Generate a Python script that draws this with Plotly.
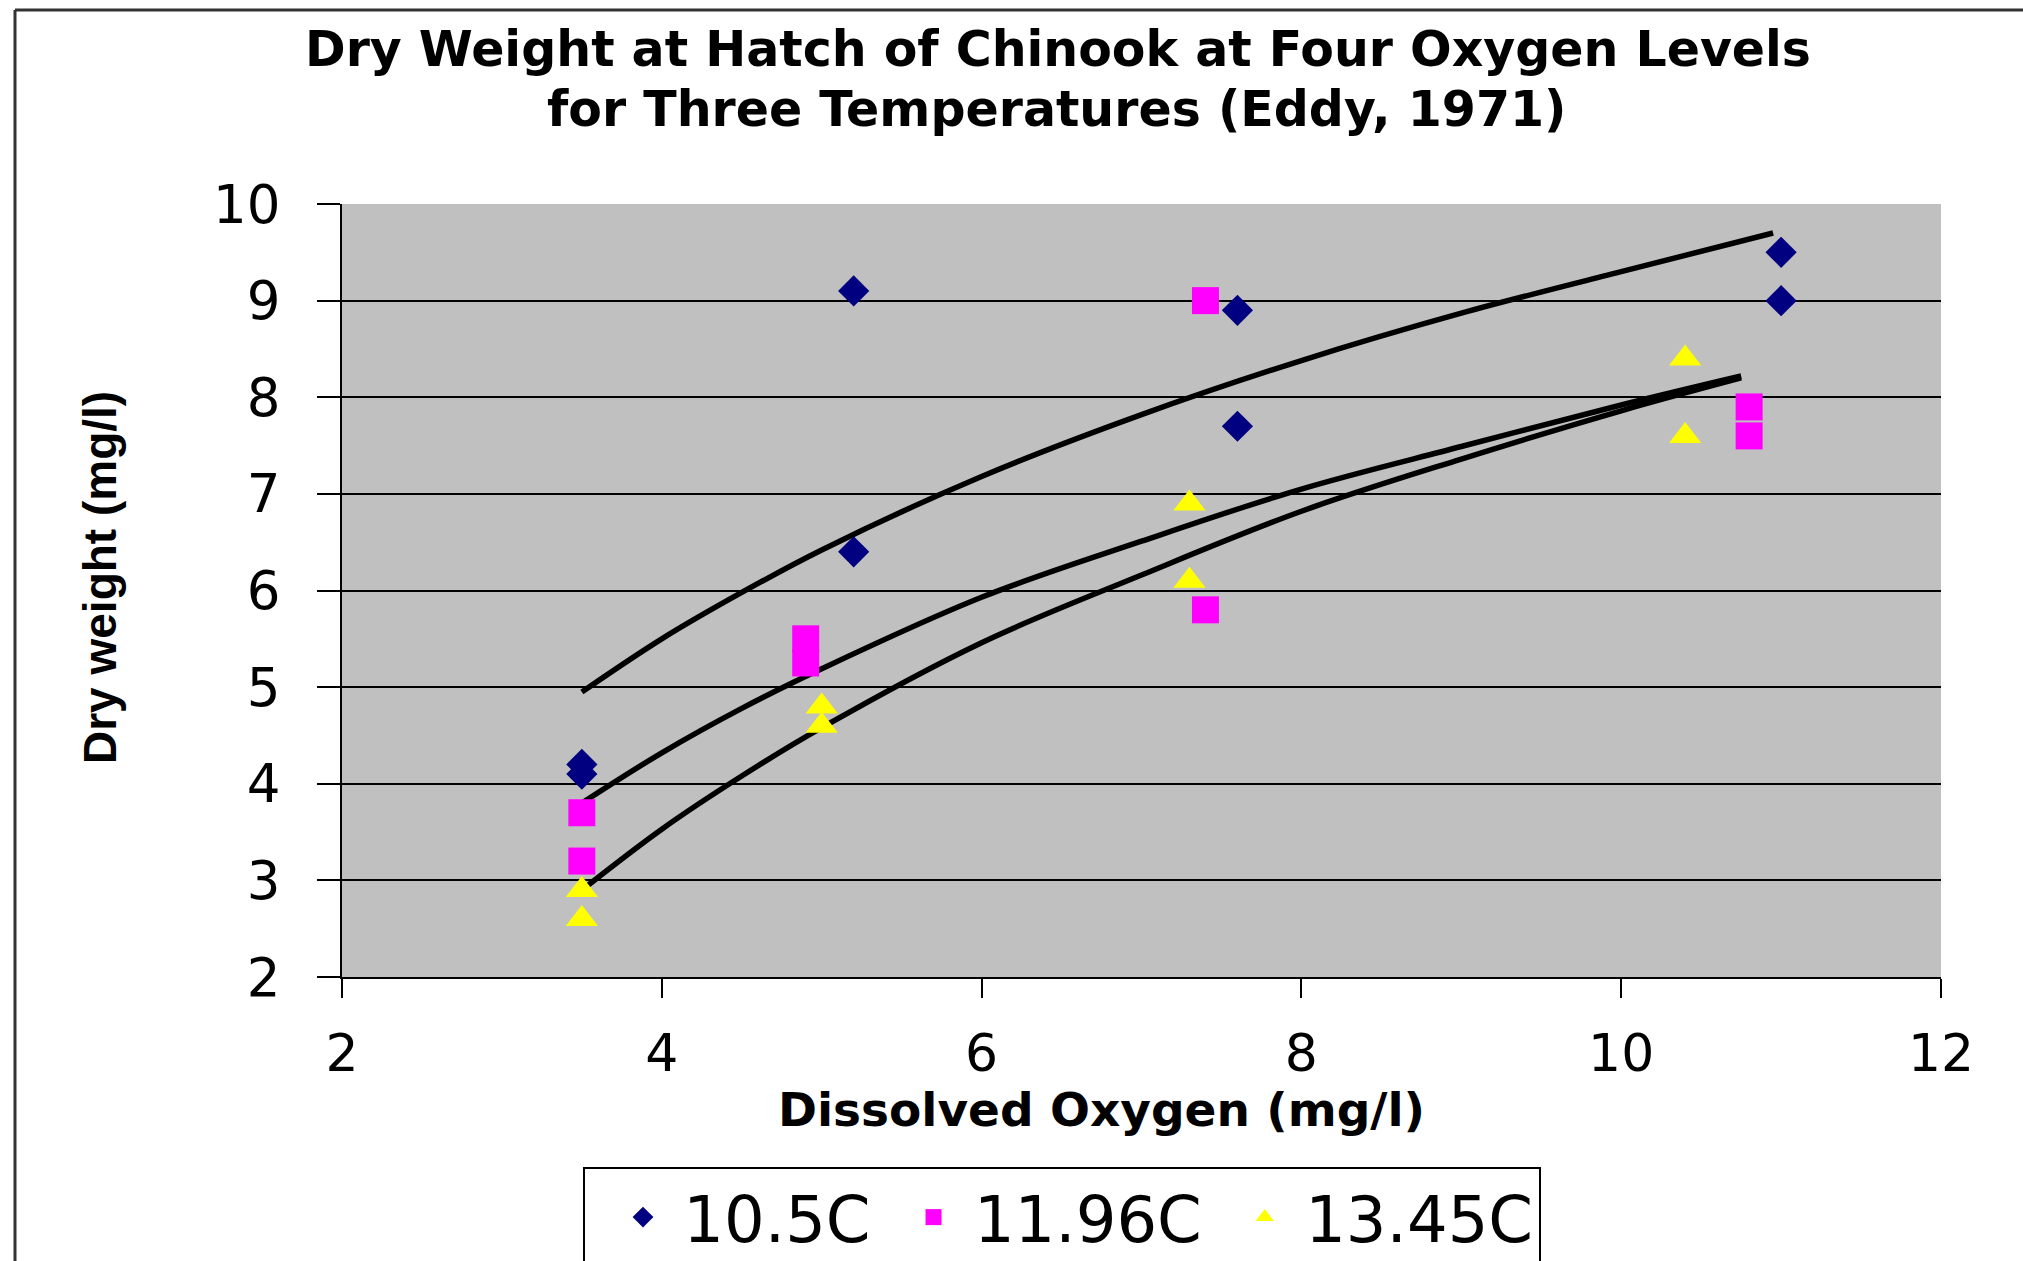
import plotly.graph_objects as go

# ---- data ----
t105_x = [3.5, 3.5, 5.2, 5.2, 7.6, 7.6, 11.0, 11.0]
t105_y = [4.2, 4.1, 9.1, 6.4, 8.9, 7.7, 9.5, 9.0]

t1196_x = [3.5, 3.5, 4.9, 4.9, 7.4, 7.4, 10.8, 10.8]
t1196_y = [3.7, 3.2, 5.5, 5.25, 9.0, 5.8, 7.9, 7.6]

t1345_x = [3.5, 3.5, 5.0, 5.0, 7.3, 7.3, 10.4, 10.4]
t1345_y = [2.9, 2.6, 4.8, 4.6, 6.9, 6.1, 8.4, 7.6]

# trend curves
curve_top_x = [3.5, 4.0, 4.5, 5.0, 6.0, 7.0, 8.0, 9.0, 10.0, 10.95]
curve_top_y = [4.95, 5.5, 5.98, 6.42, 7.18, 7.82, 8.38, 8.87, 9.3, 9.7]

curve_mid_x = [3.5, 4.0, 4.5, 5.0, 6.0, 7.0, 8.0, 9.0, 10.0, 10.75]
curve_mid_y = [3.8, 4.32, 4.78, 5.19, 5.93, 6.51, 7.05, 7.49, 7.92, 8.22]

curve_low_x = [3.5, 4.0, 4.5, 5.0, 6.0, 7.0, 8.0, 9.0, 10.0, 10.75]
curve_low_y = [2.9, 3.53, 4.08, 4.58, 5.46, 6.16, 6.82, 7.36, 7.86, 8.2]

series_names = ["10.5C", "11.96C", "13.45C"]
x_ticks = [2, 4, 6, 8, 10, 12]
y_ticks = [2, 3, 4, 5, 6, 7, 8, 9, 10]

title_line1 = "Dry Weight at Hatch of Chinook at Four Oxygen Levels"
title_line2 = "for Three Temperatures (Eddy, 1971)"
x_title = "Dissolved Oxygen (mg/l)"
y_title = "Dry weight (mg/l)"

FONT = "DejaVu Sans"
NBSP = "\u00a0"

fig = go.Figure()

for cx, cy in [(curve_top_x, curve_top_y), (curve_mid_x, curve_mid_y), (curve_low_x, curve_low_y)]:
    fig.add_trace(go.Scatter(x=cx, y=cy, mode="lines", line=dict(color="black", width=5.5, shape="spline"),
                             showlegend=False, hoverinfo="skip"))

fig.add_trace(go.Scatter(x=t105_x, y=t105_y, mode="markers", name=NBSP + series_names[0],
                         marker=dict(symbol="diamond", size=24, color="#000080")))
fig.add_trace(go.Scatter(x=t1196_x, y=t1196_y, mode="markers", name=NBSP + series_names[1],
                         marker=dict(symbol="square", size=27, color="#FF00FF")))
fig.add_trace(go.Scatter(x=t1345_x, y=t1345_y, mode="markers", name=NBSP + series_names[2],
                         marker=dict(symbol="triangle-up", size=28, color="#FFFF00")))

W, H = 2023, 1261
L, R, T, B = 342, 82, 204, 284
pw, ph = W - L - R, H - T - B

def px_x(p):
    return (p - L) / pw

def px_y(p):
    return (H - B - p) / ph

fig.update_layout(
    width=W, height=H,
    margin=dict(l=L, r=R, t=T, b=B, autoexpand=False),
    paper_bgcolor="white",
    plot_bgcolor="#C0C0C0",
    font=dict(family=FONT, color="black"),
    showlegend=True,
    legend=dict(
        orientation="h",
        x=px_x(583), y=px_y(1167), xanchor="left", yanchor="top",
        bordercolor="black", borderwidth=2, bgcolor="white",
        font=dict(family=FONT, size=64, color="black"),
        indentation=38,
        itemsizing="trace",
    ),
    xaxis=dict(
        range=[2, 12], tickvals=x_ticks, showgrid=False, zeroline=False,
        showline=True, linecolor="black", linewidth=2,
        ticks="outside", ticklen=19, tickwidth=2, tickcolor="black",
        tickfont=dict(family=FONT, size=52, color="black"),
        ticklabelstandoff=11,
    ),
    yaxis=dict(
        range=[2, 10], tickvals=y_ticks, showgrid=True, gridcolor="black", gridwidth=2,
        zeroline=False, showline=True, linecolor="black", linewidth=2,
        ticks="outside", ticklen=23, tickwidth=2, tickcolor="black",
        tickfont=dict(family=FONT, size=53, color="black"),
        ticklabelstandoff=26,
    ),
    annotations=[
        dict(text="<b>%s</b>" % title_line1, xref="paper", yref="paper",
             x=px_x(1058), y=px_y(49), xanchor="center", yanchor="middle", showarrow=False,
             font=dict(family=FONT, size=49, color="black")),
        dict(text="<b>%s</b>" % title_line2, xref="paper", yref="paper",
             x=px_x(1056), y=px_y(110), xanchor="center", yanchor="middle", showarrow=False,
             font=dict(family=FONT, size=49, color="black")),
        dict(text="<b>%s</b>" % x_title, xref="paper", yref="paper",
             x=px_x(1101), y=px_y(1109), xanchor="center", yanchor="middle", showarrow=False,
             font=dict(family=FONT, size=47, color="black")),
        dict(text="<b>%s</b>" % y_title, xref="paper", yref="paper", textangle=-90,
             x=px_x(100), y=px_y(577), xanchor="center", yanchor="middle", showarrow=False,
             font=dict(family="Liberation Sans", size=46, color="black")),
    ],
    shapes=[
        dict(type="line", xref="paper", yref="paper", x0=px_x(15), x1=px_x(15), y0=px_y(10), y1=px_y(1300),
             line=dict(color="#333333", width=3)),
        dict(type="line", xref="paper", yref="paper", x0=px_x(15), x1=px_x(2100), y0=px_y(10), y1=px_y(10),
             line=dict(color="#333333", width=3)),
    ],
)

fig.write_html("out.html", config={"displayModeBar": False},
               post_script="document.body.style.margin='0';document.body.style.padding='0';document.body.style.overflow='hidden';")
